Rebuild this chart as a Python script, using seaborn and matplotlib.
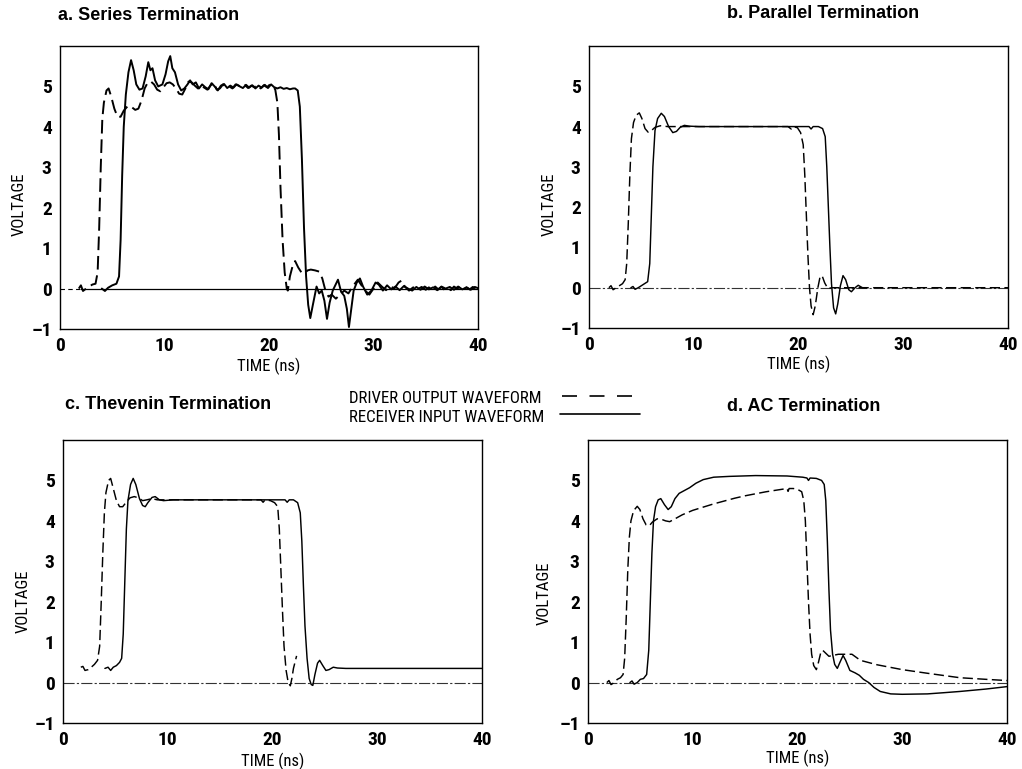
import matplotlib
matplotlib.use("Agg")
import matplotlib.pyplot as plt
from matplotlib.lines import Line2D
from matplotlib import font_manager
import numpy as np
import pandas as pd
import seaborn as sns

# ---------------------------------------------------------------------------
# Waveform samples: (time in ns, voltage)
# ---------------------------------------------------------------------------
SERIES_DRIVER = [
    (1.8, 0.0), (2.0, 0.08), (2.2, -0.06), (2.5, 0.0), (2.8, 0.05), (3.1, 0.1),
    (3.4, 0.12), (3.6, 0.4), (3.75, 1.5), (3.9, 3.0), (4.05, 4.2), (4.2, 4.6),
    (4.45, 4.9), (4.65, 4.95), (4.9, 4.75), (5.2, 4.45), (5.5, 4.25), (5.8, 4.25),
    (6.1, 4.4), (6.5, 4.52), (6.8, 4.5), (7.2, 4.42), (7.5, 4.45), (7.8, 4.65),
    (8.1, 4.95), (8.4, 5.1), (8.7, 5.12), (9.0, 5.05), (9.3, 4.92), (9.6, 4.88),
    (9.9, 4.98), (10.2, 5.08), (10.5, 5.1), (10.8, 5.05), (11.1, 4.95), (11.4, 4.82),
    (11.7, 4.8), (12.0, 4.95), (12.3, 5.12), (12.6, 5.1), (12.9, 5.02), (13.2, 4.95),
    (13.5, 5.02), (13.8, 4.97), (14.1, 4.92), (14.4, 5.02), (14.7, 5.1), (15.0, 4.92),
    (15.3, 4.95), (15.6, 5.05), (15.9, 4.97), (16.2, 5.0), (16.5, 4.95), (16.8, 5.05),
    (17.1, 5.02), (17.4, 4.98), (17.7, 5.03), (18.0, 4.96), (18.3, 5.02), (18.6, 4.98),
    (18.9, 5.04), (19.2, 4.95), (19.5, 5.03), (19.8, 4.98), (20.1, 5.05), (20.4, 5.0),
    (20.6, 4.92), (20.8, 4.6), (20.95, 3.8), (21.1, 2.5), (21.3, 1.2), (21.5, 0.4),
    (21.7, 0.0), (21.8, -0.05), (22.0, 0.3), (22.3, 0.6), (22.5, 0.68), (22.8, 0.52),
    (23.1, 0.4), (23.4, 0.38), (23.7, 0.45), (24.0, 0.47), (24.4, 0.45), (24.8, 0.42),
    (25.1, 0.25), (25.4, -0.05), (25.7, -0.2), (26.0, -0.15), (26.4, -0.25), (26.8, -0.15),
    (27.2, -0.05), (27.6, -0.12), (28.0, 0.05), (28.5, 0.22), (28.8, 0.1), (29.2, -0.05),
    (29.6, -0.15), (30.0, 0.0), (30.4, 0.15), (30.8, 0.05), (31.2, -0.04), (31.6, 0.06),
    (32.0, 0.0), (32.4, 0.15), (32.7, 0.2), (33.0, 0.05), (33.4, -0.05), (33.8, 0.03),
    (34.2, -0.02), (34.6, 0.04), (35.0, -0.03), (35.3, 0.03), (35.6, -0.04), (35.9, 0.05),
    (36.2, -0.02), (36.5, 0.04), (36.8, -0.03), (37.1, 0.02), (37.4, -0.04), (37.7, 0.05),
    (38.0, 0.0), (38.3, 0.04), (38.6, -0.03), (38.9, 0.03), (39.2, -0.02), (39.5, 0.04),
    (39.8, 0.0), (40.0, 0.02),
]
SERIES_RECEIVER = [
    (4.0, 0.0), (4.3, -0.06), (4.6, 0.02), (5.0, 0.08), (5.4, 0.12), (5.65, 0.3),
    (5.8, 1.2), (5.95, 2.8), (6.1, 4.0), (6.3, 4.8), (6.55, 5.35), (6.8, 5.65),
    (7.05, 5.4), (7.3, 5.05), (7.6, 4.92), (7.9, 4.95), (8.2, 5.25), (8.45, 5.6),
    (8.65, 5.4), (8.85, 5.45), (9.1, 5.15), (9.4, 5.0), (9.8, 5.05), (10.1, 5.3),
    (10.35, 5.62), (10.55, 5.75), (10.75, 5.45), (11.0, 5.35), (11.3, 5.05), (11.6, 4.9),
    (11.9, 4.95), (12.2, 5.05), (12.45, 5.15), (12.7, 5.05), (13.0, 5.1), (13.3, 4.95),
    (13.6, 5.05), (13.9, 4.98), (14.2, 4.93), (14.5, 5.08), (14.8, 5.0), (15.1, 4.9),
    (15.4, 5.02), (15.7, 5.06), (16.0, 4.96), (16.3, 5.02), (16.6, 4.97), (16.9, 5.05),
    (17.2, 5.0), (17.5, 4.96), (17.8, 5.04), (18.1, 4.97), (18.4, 5.03), (18.7, 4.95),
    (19.0, 5.02), (19.3, 4.97), (19.6, 5.04), (19.9, 4.96), (20.2, 5.05), (20.5, 4.98),
    (20.8, 4.95), (21.1, 4.98), (21.4, 4.94), (21.7, 4.96), (22.0, 4.93), (22.3, 4.95),
    (22.5, 4.95), (22.75, 4.9), (22.95, 4.5), (23.15, 3.2), (23.35, 1.5), (23.55, 0.3),
    (23.75, -0.4), (23.95, -0.73), (24.2, -0.4), (24.55, 0.05), (24.8, -0.12), (25.05, -0.05),
    (25.3, -0.3), (25.55, -0.75), (25.8, -0.35), (26.1, -0.05), (26.6, 0.22), (26.9, -0.08),
    (27.2, -0.18), (27.45, -0.5), (27.65, -0.95), (27.85, -0.55), (28.1, -0.05), (28.4, 0.15),
    (28.7, 0.25), (29.0, 0.05), (29.4, -0.15), (29.8, -0.05), (30.2, 0.15), (30.5, 0.1),
    (30.9, -0.05), (31.3, 0.08), (31.7, -0.02), (32.1, 0.05), (32.5, -0.04), (32.9, 0.06),
    (33.3, 0.0), (33.7, -0.05), (34.1, 0.04), (34.5, -0.03), (34.9, 0.05), (35.3, -0.02),
    (35.7, 0.03), (36.1, -0.04), (36.5, 0.05), (36.9, 0.0), (37.3, 0.04), (37.7, -0.03),
    (38.1, 0.05), (38.5, -0.02), (38.9, 0.03), (39.3, -0.03), (39.7, 0.04), (40.0, 0.01),
]

PARALLEL_DRIVER = [
    (1.9, 0.0), (2.1, 0.05), (2.3, -0.05), (2.6, 0.0), (2.9, 0.05), (3.2, 0.1),
    (3.45, 0.2), (3.6, 0.6), (3.75, 1.6), (3.9, 2.8), (4.05, 3.7), (4.25, 4.1),
    (4.5, 4.28), (4.8, 4.34), (5.05, 4.2), (5.35, 3.95), (5.65, 3.86), (5.95, 3.9),
    (6.3, 3.98), (6.8, 4.02), (7.5, 4.0), (8.5, 4.0), (10.0, 4.0), (14.0, 4.0),
    (18.0, 4.0), (19.0, 4.0), (19.3, 3.94), (19.5, 4.0), (19.9, 3.97), (20.2, 3.85),
    (20.45, 3.55), (20.6, 2.8), (20.75, 1.8), (20.9, 0.8), (21.05, 0.0), (21.2, -0.45),
    (21.4, -0.67), (21.6, -0.45), (21.85, 0.0), (22.05, 0.26), (22.25, 0.3), (22.5, 0.12),
    (22.8, -0.02), (23.2, 0.0), (40.0, 0.0),
]
PARALLEL_RECEIVER = [
    (4.0, 0.0), (4.2, 0.03), (4.4, -0.04), (4.7, 0.0), (5.0, 0.05), (5.3, 0.1),
    (5.6, 0.15), (5.8, 0.6), (5.95, 1.8), (6.1, 3.0), (6.3, 3.9), (6.55, 4.2),
    (6.9, 4.33), (7.2, 4.25), (7.6, 4.0), (8.0, 3.85), (8.35, 3.88), (8.7, 3.98),
    (9.1, 4.03), (9.6, 4.01), (10.5, 4.0), (15.0, 4.0), (20.0, 4.0), (21.0, 4.0),
    (21.2, 3.94), (21.4, 4.0), (21.9, 4.0), (22.3, 3.95), (22.55, 3.75), (22.7, 3.0),
    (22.85, 2.0), (23.0, 1.0), (23.15, 0.1), (23.35, -0.5), (23.55, -0.65), (23.75, -0.4),
    (24.0, 0.05), (24.25, 0.3), (24.5, 0.2), (24.8, -0.05), (25.05, -0.1), (25.4, 0.0),
    (25.7, 0.06), (26.1, 0.0), (26.5, 0.0),
]

THEVENIN_DRIVER = [
    (1.7, 0.38), (1.9, 0.4), (2.1, 0.3), (2.4, 0.32), (2.7, 0.38), (3.0, 0.45),
    (3.3, 0.55), (3.5, 0.9), (3.65, 2.0), (3.8, 3.2), (3.95, 4.2), (4.1, 4.7),
    (4.35, 5.0), (4.55, 5.05), (4.8, 4.8), (5.1, 4.5), (5.4, 4.35), (5.7, 4.35),
    (6.0, 4.45), (6.4, 4.57), (6.8, 4.6), (7.2, 4.57), (7.6, 4.5), (8.0, 4.52),
    (8.5, 4.55), (9.0, 4.52), (10.0, 4.52), (15.0, 4.52), (18.9, 4.52), (19.1, 4.46),
    (19.3, 4.52), (19.8, 4.5), (20.2, 4.45), (20.5, 4.35), (20.65, 3.8), (20.8, 2.8),
    (20.95, 1.8), (21.1, 0.9), (21.3, 0.3), (21.5, 0.0), (21.7, -0.08), (21.85, 0.1),
    (22.0, 0.35), (22.3, 0.66),
]
THEVENIN_RECEIVER = [
    (4.0, 0.35), (4.3, 0.38), (4.55, 0.3), (4.8, 0.38), (5.1, 0.42), (5.4, 0.5),
    (5.6, 0.6), (5.75, 1.2), (5.9, 2.5), (6.05, 3.8), (6.2, 4.5), (6.45, 4.9),
    (6.7, 5.05), (6.95, 4.9), (7.3, 4.55), (7.6, 4.38), (7.85, 4.35), (8.1, 4.45),
    (8.5, 4.58), (8.8, 4.6), (9.2, 4.52), (9.6, 4.5), (10.5, 4.52), (15.0, 4.52),
    (20.0, 4.52), (21.2, 4.52), (21.4, 4.46), (21.6, 4.52), (22.0, 4.52), (22.4, 4.45),
    (22.65, 4.2), (22.8, 3.5), (22.95, 2.4), (23.1, 1.4), (23.3, 0.6), (23.5, 0.1),
    (23.7, -0.05), (23.85, -0.07), (24.05, 0.2), (24.3, 0.48), (24.5, 0.55), (24.8, 0.42),
    (25.1, 0.3), (25.4, 0.32), (25.8, 0.38), (26.2, 0.36), (27.0, 0.35), (40.0, 0.35),
]

AC_DRIVER = [
    (1.8, 0.0), (2.0, 0.05), (2.2, -0.05), (2.5, 0.0), (2.8, 0.08), (3.1, 0.12),
    (3.35, 0.2), (3.5, 0.6), (3.65, 1.6), (3.8, 2.8), (3.95, 3.6), (4.1, 4.0),
    (4.35, 4.25), (4.7, 4.36), (4.95, 4.28), (5.25, 4.05), (5.55, 3.9), (5.85, 3.88),
    (6.15, 3.97), (6.6, 4.05), (7.0, 4.04), (7.4, 4.0), (7.8, 3.98), (8.3, 4.05),
    (9.0, 4.15), (10.0, 4.26), (11.0, 4.34), (12.0, 4.42), (13.0, 4.49), (14.0, 4.56),
    (15.0, 4.62), (16.0, 4.67), (17.0, 4.72), (18.0, 4.76), (19.0, 4.8), (19.1, 4.73),
    (19.2, 4.8), (19.6, 4.8), (20.0, 4.78), (20.4, 4.72), (20.6, 4.5), (20.75, 4.0),
    (20.9, 3.0), (21.05, 2.0), (21.2, 1.2), (21.35, 0.7), (21.55, 0.42), (21.8, 0.32),
    (22.0, 0.5), (22.2, 0.72), (22.4, 0.8), (23.0, 0.65), (23.9, 0.7), (25.2, 0.7),
    (26.0, 0.55), (27.6, 0.44), (30.0, 0.32), (32.4, 0.23), (35.5, 0.12), (38.0, 0.08),
    (40.0, 0.05),
]
AC_RECEIVER = [
    (4.0, 0.0), (4.2, 0.04), (4.4, -0.04), (4.7, 0.0), (5.0, 0.08), (5.3, 0.1),
    (5.6, 0.2), (5.8, 0.8), (5.95, 2.0), (6.1, 3.2), (6.25, 4.0), (6.45, 4.35),
    (6.7, 4.52), (6.95, 4.55), (7.3, 4.4), (7.65, 4.28), (7.95, 4.35), (8.3, 4.55),
    (8.7, 4.68), (9.2, 4.75), (9.7, 4.82), (10.3, 4.93), (11.0, 5.02), (12.0, 5.08),
    (13.5, 5.1), (16.0, 5.12), (19.0, 5.11), (20.5, 5.08), (20.9, 5.06), (21.05, 5.0),
    (21.2, 5.06), (21.8, 5.05), (22.3, 5.0), (22.55, 4.9), (22.7, 4.5), (22.85, 3.5),
    (23.0, 2.3), (23.15, 1.3), (23.35, 0.7), (23.55, 0.45), (23.8, 0.35), (24.05, 0.5),
    (24.35, 0.67), (24.6, 0.55), (25.0, 0.3), (25.5, 0.24), (25.9, 0.18), (26.3, 0.08),
    (26.8, 0.0), (27.3, -0.12), (27.9, -0.22), (28.9, -0.28), (30.0, -0.29), (32.4, -0.28),
    (34.0, -0.25), (35.5, -0.22), (38.0, -0.16), (40.0, -0.1),
]

PANELS = [
    # title, driver samples, receiver samples
    ("a. Series Termination", SERIES_DRIVER, SERIES_RECEIVER),
    ("b. Parallel Termination", PARALLEL_DRIVER, PARALLEL_RECEIVER),
    ("c. Thevenin Termination", THEVENIN_DRIVER, THEVENIN_RECEIVER),
    ("d. AC Termination", AC_DRIVER, AC_RECEIVER),
]

X_TICKS = [0, 10, 20, 30, 40]
Y_TICKS = [-1, 0, 1, 2, 3, 4, 5]
LEGEND_LABELS = ["DRIVER OUTPUT WAVEFORM", "RECEIVER INPUT WAVEFORM"]

# ---------------------------------------------------------------------------
sns.set_theme(style="white")

# narrow sans face for the axis text, if one is available
available = {f.name for f in font_manager.fontManager.ttflist}
NARROW = None
for cand in ["Liberation Sans Narrow", "Roboto Condensed", "Open Sans Condensed",
             "Arial Narrow", "Nimbus Sans Narrow", "DejaVu Sans Condensed"]:
    if cand in available:
        NARROW = cand
        break
if NARROW is None:
    NARROW_FAMILY = ["DejaVu Sans"]
else:
    NARROW_FAMILY = [NARROW, "DejaVu Sans"]
plt.rcParams["font.family"] = NARROW_FAMILY
plt.rcParams["font.stretch"] = "condensed"
plt.rcParams["axes.unicode_minus"] = True

NARROW_FONT = dict(family=NARROW_FAMILY, stretch="condensed")

W, H = 1022, 769
fig = plt.figure(figsize=(W / 100, H / 100), dpi=100)
fig.patch.set_facecolor("white")


def fx(px):
    return px / W


def fy(py):
    return 1 - py / H


# axes boxes in pixels: left, top, right, bottom
boxes = [(60, 46, 478, 329), (589, 46, 1008, 328), (63, 440, 482, 723), (588, 440, 1007, 723)]
title_pos = [(58, 19.5), (727, 18), (65, 409), (727, 411)]
ylabel_pos = [(-0.08, 0.44), (-0.078, 0.44), (-0.076, 0.43), (-0.087, 0.46)]
xlabel_pos = [(0.5, -0.1), (0.5, -0.1), (0.5, -0.105), (0.5, -0.095)]
line_w = [1.4, 1.05, 1.05, 1.05]

DASH = (7, 3)

for i, (title, drv, rcv) in enumerate(PANELS):
    l, t, r, b = boxes[i]
    ax = fig.add_axes([fx(l), fy(b), fx(r) - fx(l), fy(t) - fy(b)])

    frames = []
    for name, samples in (("driver", drv), ("receiver", rcv)):
        tt, vv = zip(*samples)
        frames.append(pd.DataFrame({"time": tt, "voltage": vv, "wave": name}))
    df = pd.concat(frames, ignore_index=True)

    # zero reference trace
    if i == 0:
        ax.axhline(0, xmin=2 / 40, xmax=1, color="black", lw=0.9, zorder=1)
        ax.axhline(0, xmin=0, xmax=2 / 40, color="black", lw=0.8,
                   linestyle=(0, (4, 3)), zorder=1)
    else:
        ax.axhline(0, color="#333333", lw=0.8, linestyle=(0, (10, 2, 2, 2)), zorder=1)

    sns.lineplot(data=df, x="time", y="voltage", style="wave",
                 dashes={"driver": DASH, "receiver": ""},
                 color="black", lw=line_w[i], sort=False, estimator=None,
                 legend=False, ax=ax)

    ax.set_xlim(0, 40)
    ax.set_ylim(-1, 6)
    ax.set_xticks(X_TICKS)
    ax.set_yticks(Y_TICKS)
    ax.set_xticklabels([str(v) for v in X_TICKS], fontsize=14, fontweight="bold",
                       **NARROW_FONT)
    ax.set_yticklabels([("\u2013" + str(-v)) if v < 0 else str(v) for v in Y_TICKS],
                       fontsize=14, fontweight="bold", **NARROW_FONT)
    ax.tick_params(length=0, pad=6, colors="black")
    for sp in ax.spines.values():
        sp.set_visible(True)
        sp.set_color("black")
        sp.set_linewidth(1.0)
    ax.set_xlabel("TIME (ns)", fontsize=12, color="black", **NARROW_FONT)
    ax.set_ylabel("VOLTAGE", fontsize=12, color="black", **NARROW_FONT)
    ax.xaxis.set_label_coords(*xlabel_pos[i])
    ax.yaxis.set_label_coords(*ylabel_pos[i])
    ax.grid(False)
    ax.set_facecolor("white")

    tx, ty = title_pos[i]
    fig.text(fx(tx), fy(ty), title, ha="left", va="baseline", fontsize=13,
             fontweight="bold", family=["Liberation Sans", "DejaVu Sans"],
             stretch="normal", color="black")

# waveform key
fig.text(fx(349), fy(403), LEGEND_LABELS[0], fontsize=12.2, va="baseline",
         color="black", **NARROW_FONT)
fig.text(fx(349), fy(422), LEGEND_LABELS[1], fontsize=12.2, va="baseline",
         color="black", **NARROW_FONT)
fig.add_artist(Line2D([fx(562), fx(632)], [fy(396), fy(396)], color="black", lw=1.2,
                      linestyle=(0, (9, 7.5)), transform=fig.transFigure))
fig.add_artist(Line2D([fx(560), fx(640)], [fy(414), fy(414)], color="black", lw=1.2,
                      transform=fig.transFigure))

fig.savefig("out.png", dpi=100, facecolor="white")
